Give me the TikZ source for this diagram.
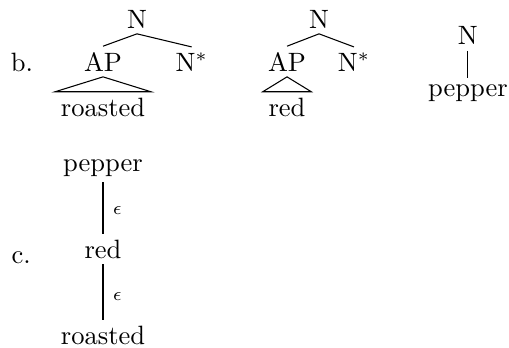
\documentclass[tikz,border=0pt]{standalone}
\usepackage{tikz}

\begin{document}
\begin{tikzpicture}[every node/.style={inner sep=2pt, anchor=base}]
	\useasboundingbox (0,0) rectangle (6.744,-4.598);

	% b. the two adjunction trees and the initial tree
	\node (b) at (0.29,-0.941) {b.};

	\node (N1) at (1.815,-0.371) {N};
	\node (AP1) at (1.365,-0.941) {AP};
	\node (Nf1) at (2.54,-0.941) {N$^*$};
	\node (roasted1) at (1.365,-1.537) {roasted};
	\draw (N1.south) -- (AP1.north);
	\draw (N1.south) -- (Nf1.north);
	\draw (AP1.south) -- (roasted1.north west) -- (roasted1.north east) -- cycle;

	\node (N2) at (4.227,-0.371) {N};
	\node (AP2) at (3.803,-0.941) {AP};
	\node (Nf2) at (4.69,-0.941) {N$^*$};
	\node (red1) at (3.803,-1.537) {red};
	\draw (N2.south) -- (AP2.north);
	\draw (N2.south) -- (Nf2.north);
	\draw (AP2.south) -- (red1.north west) -- (red1.north east) -- cycle;

	\node (N3) at (6.20,-0.596) {N};
	\node (pepper1) at (6.20,-1.272) {pepper};
	\draw (N3.south) -- (pepper1.north);

	% c. derivation tree
	\node (c) at (0.28,-3.485) {c.};
	\node (pepper2) at (1.365,-2.266) {pepper};
	\node (red2) at (1.365,-3.419) {red};
	\node (roasted2) at (1.365,-4.558) {roasted};
	\draw (pepper2.south) -- node [pos=0.55, right, xshift=1.5pt, font=\scriptsize] {$\epsilon$} (red2.north);
	\draw (red2.south) -- node [pos=0.58, right, xshift=1.5pt, font=\scriptsize] {$\epsilon$} (roasted2.north);
\end{tikzpicture}
\end{document}
